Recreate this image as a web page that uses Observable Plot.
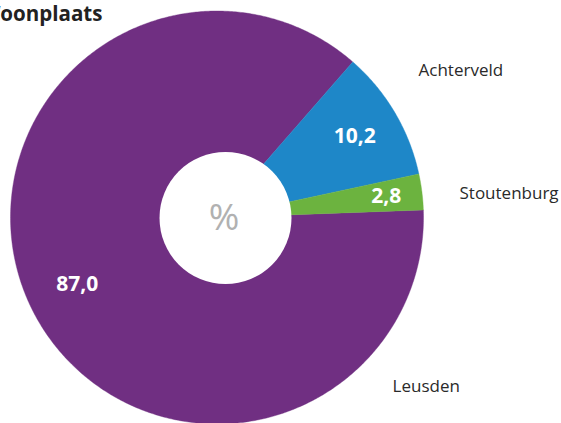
<!DOCTYPE html>
<html>
<head>
<meta charset="utf-8">
<script src="https://cdn.jsdelivr.net/npm/d3@7"></script>
<script src="https://cdn.jsdelivr.net/npm/@observablehq/plot@0.6"></script>
<style>
  html, body { margin: 0; padding: 0; background: #fff; }
  #chart { width: 561px; height: 423px; overflow: hidden; }
</style>
</head>
<body>
<div id="chart"></div>
<script>
// ---- data ----
const title = "Woonplaats";
const centerLabel = "%";
const categories = ["Leusden", "Achterveld", "Stoutenburg"];
const values = [87.0, 10.2, 2.8];
const valueLabels = ["87,0", "10,2", "2,8"];
const colors = ["#702f82", "#1e87c8", "#6cb33f"];

// ---- layout (styling / placement, not data) ----
const W = 561, H = 423;
const cx = 216.5, cy = 217, R = 206.5;          // pie centre & radius in px
const startDeg = 87.9;                            // clockwise from 12 o'clock
const innerLabelRadius = [0.75, 0.775, 0.826];
const outerLabelPos = [                          // [angle deg, radius] per category
  [133.9, 1.18], [53.9, 1.208], [84.4, 1.18]
];
const holeRadiusPx = 66, holeDx = 8.5, holeDy = 0.5;

const rad = d => d * Math.PI / 180;
const total = d3.sum(values);
let acc = startDeg;
const slices = categories.map((c, i) => {
  const a0 = acc, a1 = acc + values[i] / total * 360;
  acc = a1;
  return {name: c, i, a0, a1, mid: (a0 + a1) / 2};
});

// wedge outlines (centre + arc) in unit coordinates
const wedgePts = [];
for (const s of slices) {
  wedgePts.push({name: s.name, x: 0, y: 0});
  const n = Math.max(2, Math.ceil((s.a1 - s.a0) / 0.5));
  for (let k = 0; k <= n; k++) {
    const a = rad(s.a0 + (s.a1 - s.a0) * k / n);
    wedgePts.push({name: s.name, x: Math.sin(a), y: Math.cos(a)});
  }
  wedgePts.push({name: s.name, x: 0, y: 0});
}

const innerLabels = slices.map(s => ({
  text: valueLabels[s.i],
  x: innerLabelRadius[s.i] * Math.sin(rad(s.mid)),
  y: innerLabelRadius[s.i] * Math.cos(rad(s.mid))
}));
const outerLabels = slices.map(s => ({
  text: s.name,
  x: outerLabelPos[s.i][1] * Math.sin(rad(outerLabelPos[s.i][0])),
  y: outerLabelPos[s.i][1] * Math.cos(rad(outerLabelPos[s.i][0]))
}));

const chart = Plot.plot({
  width: W, height: H,
  marginTop: 0, marginRight: 0, marginBottom: 0, marginLeft: 0,
  style: {fontFamily: "'Open Sans', sans-serif", background: "#fff"},
  x: {domain: [-cx / R, (W - cx) / R], axis: null},
  y: {domain: [(cy - H) / R, cy / R], axis: null},
  color: {domain: categories, range: colors},
  marks: [
    Plot.line(wedgePts, {x: "x", y: "y", z: "name", fill: "name", stroke: "name", strokeWidth: 0.4, curve: "linear"}),
    Plot.dot([{x: 0, y: 0}], {x: "x", y: "y", r: holeRadiusPx, fill: "#fff", stroke: "none", dx: holeDx, dy: holeDy}),
    Plot.text([centerLabel], {x: () => 0, y: () => 0, text: d => d, dx: 7, dy: 1, fontSize: 37, fill: "#b1b1b1"}),
    Plot.text(innerLabels, {x: "x", y: "y", text: "text", fill: "#fff", fontWeight: "bold", fontSize: 21}),
    Plot.text(outerLabels, {x: "x", y: "y", text: "text", fill: "#2a2a2a", fontSize: 17, textAnchor: "start"}),
    Plot.text([title], {className: "chart-title", frameAnchor: "top-left", text: d => d, textAnchor: "start", lineAnchor: "top", dx: -20, dy: 5, fontSize: 22, fontWeight: "bold", fill: "#222"})
  ]
});
// condense the title glyphs to mimic the narrow original typeface
chart.querySelectorAll(".chart-title text").forEach(t => {
  t.setAttribute("textLength", 122);
  t.setAttribute("lengthAdjust", "spacingAndGlyphs");
});
document.getElementById("chart").append(chart);
</script>
</body>
</html>
